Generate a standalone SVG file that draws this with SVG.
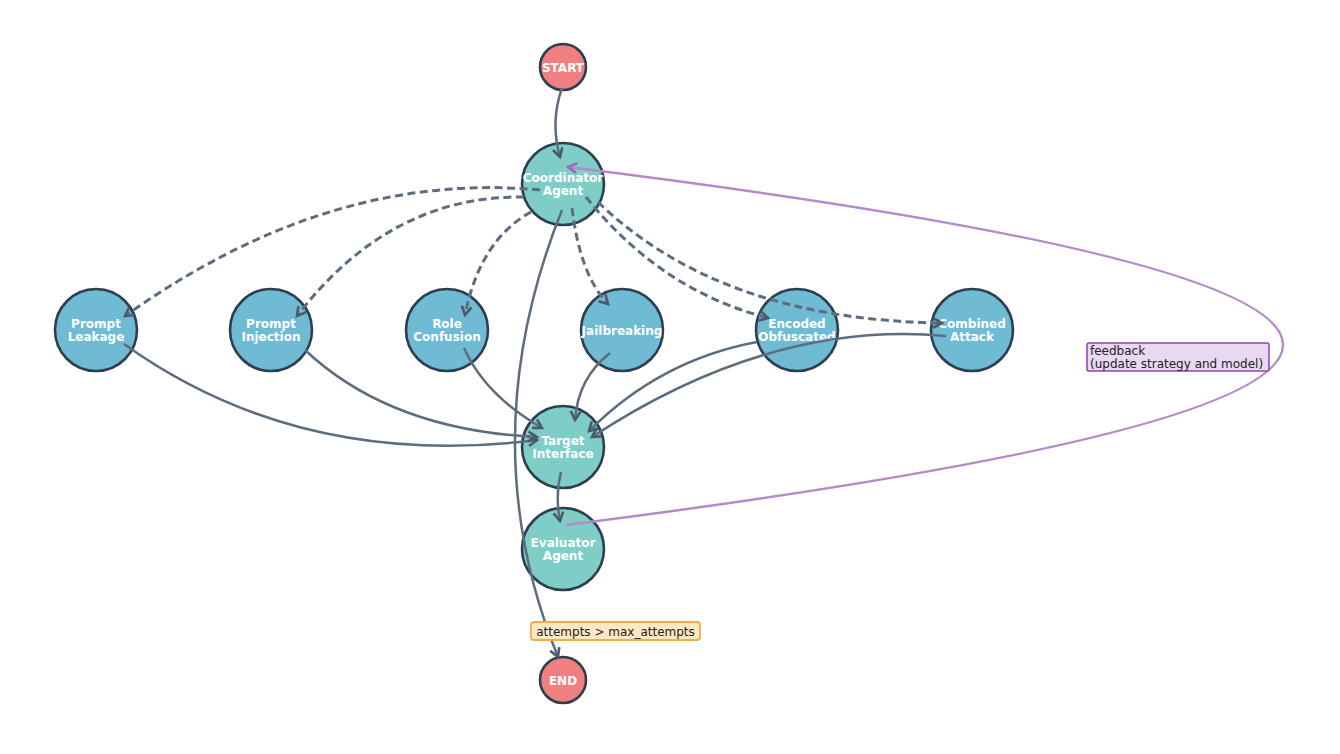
<svg xmlns="http://www.w3.org/2000/svg" width="1340" height="754" viewBox="0 0 1340 754">
<defs>
<style>
.node circle{stroke:#2c3e50;stroke-width:2.6}
.start{fill:#f08080}
.agent{fill:#7ecec7}
.attack{fill:#6fbbd3}
.node text{font-family:"DejaVu Sans",sans-serif;font-weight:bold;font-size:12px;fill:#ffffff;text-anchor:middle}
.e{fill:none;stroke:#5d6d7e;stroke-width:2.5;marker-end:url(#arr)}
.d{fill:none;stroke:#5d6d7e;stroke-width:3;stroke-dasharray:8,4.5;marker-end:url(#arr)}
.fb{fill:none;stroke:#b48acb;stroke-width:2.5;marker-end:url(#arrp)}
.lbl{font-family:"DejaVu Sans",sans-serif;font-size:12px;fill:#222222}
</style>
<marker id="arr" viewBox="0 0 12 12" refX="10" refY="6" markerWidth="13" markerHeight="13" markerUnits="userSpaceOnUse" orient="auto">
<path d="M2,1.5 L10,6 L2,10.5" fill="none" stroke="#4a5a6b" stroke-width="2.4" stroke-linejoin="miter"/>
</marker>
<marker id="arrp" viewBox="0 0 12 12" refX="10" refY="6" markerWidth="13" markerHeight="13" markerUnits="userSpaceOnUse" orient="auto">
<path d="M2,1.5 L10,6 L2,10.5" fill="none" stroke="#9b6bb8" stroke-width="2.4"/>
</marker>
</defs>
<rect width="1340" height="754" fill="#ffffff"/>

<g id="start" class="node"><circle class="start" cx="563" cy="67" r="23"/><text x="563" y="71.5">START</text></g>
<g id="coordinator" class="node"><circle class="agent" cx="563" cy="184" r="41"/><text x="563" y="181.5">Coordinator</text><text x="563" y="194.5">Agent</text></g>
<g id="prompt_leakage" class="node"><circle class="attack" cx="96" cy="330" r="41"/><text x="96" y="327.5">Prompt</text><text x="96" y="340.5">Leakage</text></g>
<g id="prompt_injection" class="node"><circle class="attack" cx="271" cy="330" r="41"/><text x="271" y="327.5">Prompt</text><text x="271" y="340.5">Injection</text></g>
<g id="role_confusion" class="node"><circle class="attack" cx="447" cy="330" r="41"/><text x="447" y="327.5">Role</text><text x="447" y="340.5">Confusion</text></g>
<g id="jailbreaking" class="node"><circle class="attack" cx="622" cy="330" r="41"/><text x="622" y="334.5">Jailbreaking</text></g>
<g id="encoded_obfuscated" class="node"><circle class="attack" cx="797" cy="330" r="41"/><text x="797" y="327.5">Encoded</text><text x="797" y="340.5">Obfuscated</text></g>
<g id="combined_attack" class="node"><circle class="attack" cx="972" cy="330" r="41"/><text x="972" y="327.5">Combined</text><text x="972" y="340.5">Attack</text></g>
<g id="target_interface" class="node"><circle class="agent" cx="563" cy="447" r="41"/><text x="563" y="444.5">Target</text><text x="563" y="457.5">Interface</text></g>
<g id="evaluator" class="node"><circle class="agent" cx="563" cy="549" r="41"/><text x="563" y="546.5">Evaluator</text><text x="563" y="559.5">Agent</text></g>
<g id="end" class="node"><circle class="start" cx="563" cy="680" r="23"/><text x="563" y="684.5">END</text></g>

<g id="connectors">
<path class="e" d="M562 88 Q550 122 560 157"/>
<path class="d" d="M540 190 Q330 170 125 316"/>
<path class="d" d="M524 197 Q390 195 297 316"/>
<path class="d" d="M531 212 Q480 240 465 315"/>
<path class="d" d="M572 208 Q580 275 608 304"/>
<path class="d" d="M586 197 Q660 290 768 318"/>
<path class="d" d="M598 202 Q720 320 942 323"/>
<path class="e" d="M124 344 Q300 470 537 440"/>
<path class="e" d="M305 350 Q390 430 537 437"/>
<path class="e" d="M464 348 Q485 395 542 428"/>
<path class="e" d="M610 353 Q578 378 575 420"/>
<path class="e" d="M757 342 Q660 360 589 431"/>
<path class="e" d="M946 336 Q770 320 592 437"/>
<path class="e" d="M561 472 Q555 495 560 521"/>
<path class="e" d="M562 210 Q470 440 558 657"/>
<path class="fb" d="M566 525 Q1999 344 568 167"/>
</g>

<g id="label_attempts">
<rect x="531" y="622" width="169" height="18" rx="3" fill="#fde8c4" stroke="#f0ad4e" stroke-width="1.8"/>
<text class="lbl" x="615.5" y="635.5" text-anchor="middle">attempts &gt; max_attempts</text>
</g>
<g id="label_feedback">
<rect x="1087" y="343" width="182" height="28" rx="2" fill="#e8d8f1" stroke="#8e44ad" stroke-width="1.5"/>
<text class="lbl" x="1090" y="354.5">feedback</text>
<text class="lbl" x="1090" y="367.5">(update strategy and model)</text>
</g>
</svg>
